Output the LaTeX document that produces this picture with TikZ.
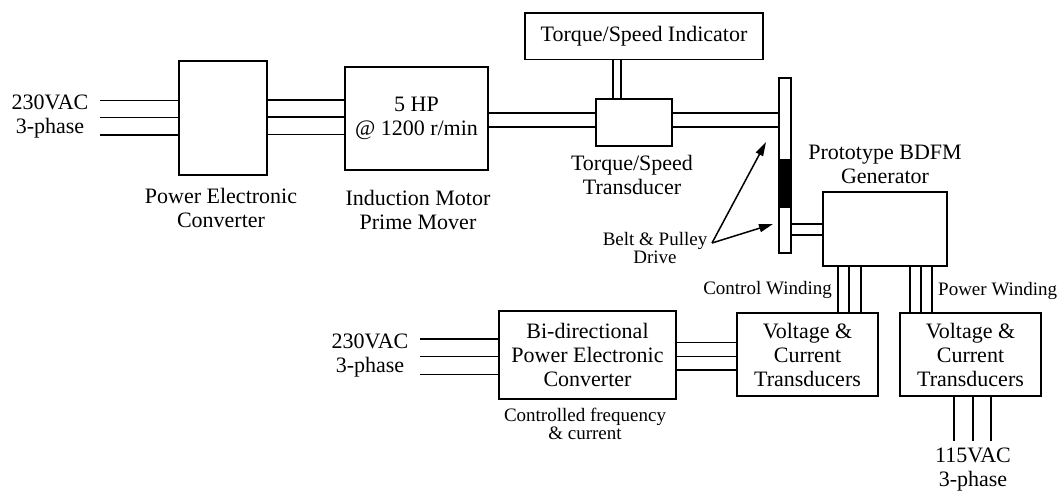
\documentclass[tikz,border=0pt]{standalone}
\usepackage{fontspec}
\setmainfont{Liberation Serif}
\usetikzlibrary{arrows.meta,calc}
\begin{document}
\begin{tikzpicture}[x=1pt,y=-1pt,
  box/.style={draw,line width=1.6pt,inner sep=0pt,align=center,font=\bigtxt},
  lbl/.style={inner sep=0pt,align=center,font=\bigtxt},
  sml/.style={inner sep=0pt,align=center,font=\smltxt},
  wire/.style={line width=1.5pt},
  pointer/.style={line width=1.5pt,-{Triangle[length=14pt,width=8pt]}}]
\newcommand{\bigtxt}{\fontsize{22}{24}\selectfont}
\newcommand{\smltxt}{\fontsize{19}{18.5}\selectfont}
\useasboundingbox (0,0) rectangle (1060,493);
% boxes
\node[box,minimum width=88pt,minimum height=114pt] (pec) at (223,117.7) {};
\node[box,minimum width=143pt,minimum height=103pt] (mot) at (416.5,118.3) {5 HP\\@ 1200 r/min};
\node[box,minimum width=76pt,minimum height=47pt] (tsx) at (634,122.5) {};
\node[box,minimum width=238pt,minimum height=46.6pt] (ind) at (644,36) {Torque/Speed Indicator};
\node[box,minimum width=124pt,minimum height=74pt] (gen) at (885,229) {};
\node[box,minimum width=141pt,minimum height=83pt] (vc1) at (807.5,354.5) {Voltage \&\\Current\\Transducers};
\node[box,minimum width=141pt,minimum height=83pt] (vc2) at (970.5,354.5) {Voltage \&\\Current\\Transducers};
\node[box,minimum width=177pt,minimum height=88.3pt] (bid) at (587.5,355) {Bi-directional\\Power Electronic\\Converter};
% pulley
\node[draw,line width=1.5pt,minimum width=12pt,minimum height=175pt,inner sep=0pt] (pul) at (785,165.5) {};
\fill (779,159) rectangle (791,208);
% labels
\node[lbl] (in1) at (50,117) {230VAC\\3-phase};
\node[lbl] (pecl) at (221,208) {Power Electronic\\Converter};
\node[lbl] (motl) at (418,210) {Induction Motor\\Prime Mover};
\node[lbl] (tsxl) at (632,175) {Torque/Speed\\Transducer};
\node[lbl] (genl) at (885,164) {Prototype BDFM\\Generator};
\node[sml] (belt) at (655,248) {Belt \& Pulley\\Drive};
\node[sml,anchor=east] (cwl) at (832,290) {Control Winding};
\node[sml,anchor=west] (pwl) at (938,291) {Power Winding};
\node[sml] (bidl) at (585,424) {Controlled frequency\\\& current};
\node[lbl] (in2) at (370,356) {230VAC\\3-phase};
\node[lbl] (out) at (973,470) {115VAC\\3-phase};
% free ends
\coordinate (a1) at (100,100.7); \coordinate (a2) at (100,117.7); \coordinate (a3) at (100,135);
\coordinate (b1) at (420,339); \coordinate (b2) at (420,356.7); \coordinate (b3) at (420,374.3);
\coordinate (c1) at (954,441); \coordinate (c2) at (973,441); \coordinate (c3) at (991,441);
\coordinate (bt) at (712,243);
\coordinate (tip1) at (766,142); \coordinate (tip2) at (773,224);
% input to PEC
\foreach \c in {a1,a2,a3} \draw[wire] (\c) -- (pec.west |- \c);
% PEC to motor
\foreach \y in {100,117,134.7} \draw[wire] (pec.east |- 0,\y) -- (mot.west |- 0,\y);
% shafts
\foreach \y in {113,127} {
  \draw[wire] (mot.east |- 0,\y) -- (tsx.west |- 0,\y);
  \draw[wire] (tsx.east |- 0,\y) -- (pul.west |- 0,\y);
}
\foreach \y in {224,235} \draw[wire] (pul.east |- 0,\y) -- (gen.west |- 0,\y);
% indicator link
\foreach \x in {613,621} \draw[wire] (ind.south -| \x,0) -- (tsx.north -| \x,0);
% windings
\foreach \x in {838,849,861} \draw[wire] (gen.south -| \x,0) -- (vc1.north -| \x,0);
\foreach \x in {910,921,932} \draw[wire] (gen.south -| \x,0) -- (vc2.north -| \x,0);
% bidir
\foreach \c in {b1,b2,b3} \draw[wire] (\c) -- (bid.west |- \c);
\foreach \y in {342.5,356.5,370} \draw[wire] (bid.east |- 0,\y) -- (vc1.west |- 0,\y);
% output
\foreach \c in {c1,c2,c3} \draw[wire] (vc2.south -| \c) -- (\c);
% arrows
\draw[pointer] (bt) -- (tip1);
\draw[pointer] (bt) -- (tip2);
\end{tikzpicture}
\end{document}
